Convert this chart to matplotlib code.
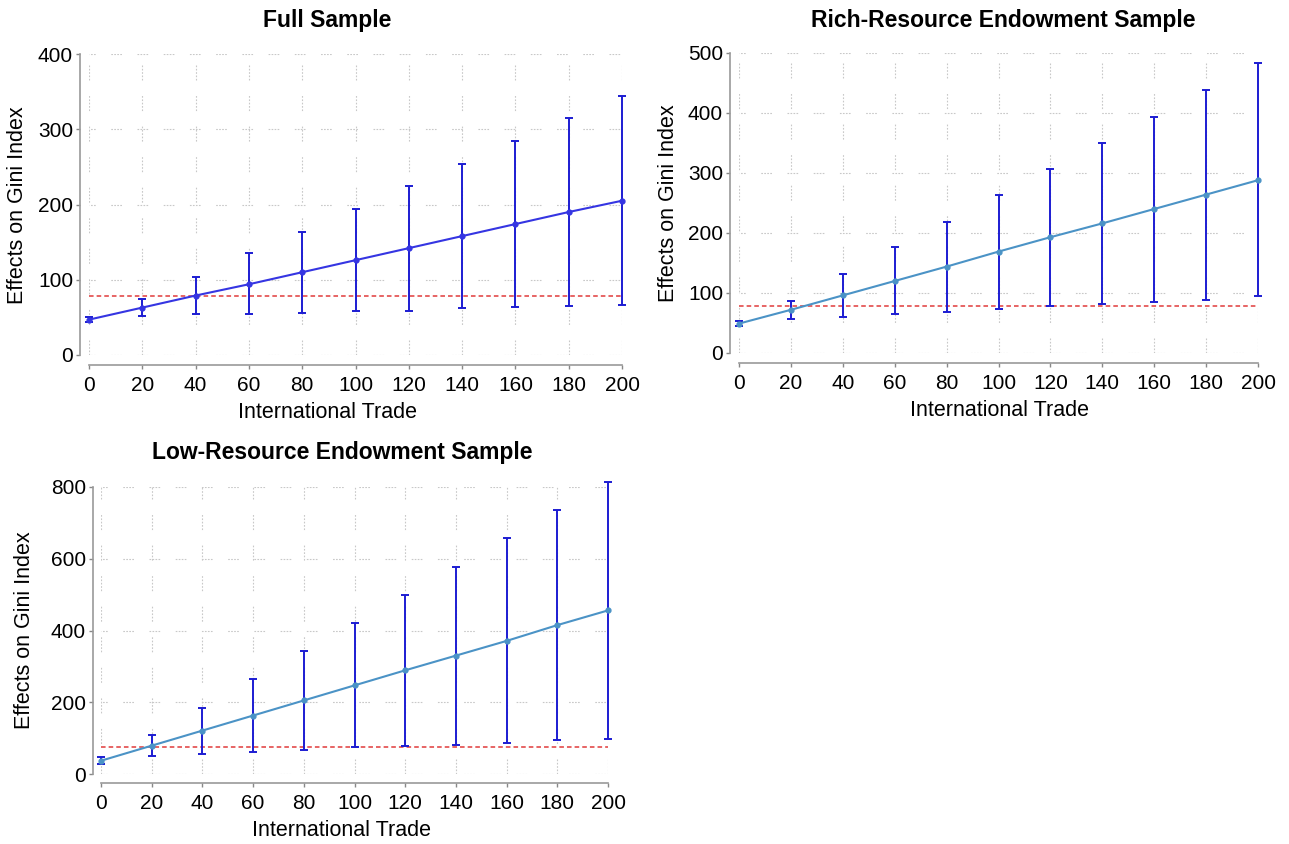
import numpy as np
import matplotlib
matplotlib.use("Agg")
import matplotlib.pyplot as plt

plt.rcParams["font.family"] = ["Liberation Sans", "DejaVu Sans"]

TRADE = [0, 20, 40, 60, 80, 100, 120, 140, 160, 180, 200]

# Full sample
FULL_MEAN = [47, 63, 79, 94, 110, 126, 142, 158, 174, 190, 205]
FULL_LO = [44, 52, 54, 55, 56, 58, 59, 62, 64, 65, 66]
FULL_HI = [50, 74, 104, 135, 164, 194, 225, 254, 285, 315, 344]
FULL_REF = 78

# Rich-resource endowment sample
RICH_MEAN = [49, 72, 96, 120, 144, 169, 193, 216, 240, 264, 288]
RICH_LO = [45, 56, 60, 65, 69, 73, 78, 82, 85, 89, 95]
RICH_HI = [53, 87, 132, 176, 219, 263, 307, 350, 394, 439, 483]
RICH_REF = 78

# Low-resource endowment sample
LOW_MEAN = [37, 79, 121, 163, 205, 247, 289, 330, 371, 415, 456]
LOW_LO = [28, 49, 55, 60, 67, 74, 77, 82, 87, 94, 97]
LOW_HI = [46, 108, 185, 265, 343, 420, 500, 577, 657, 737, 813]
LOW_REF = 76

W, H = 1289, 844
ERR_C = "#1c1cd2"

PANELS = [
    # title, mean, lo, hi, ref, ymax, line colour, axes box px (x0, x200, y0, ytop), spine offsets px,
    # title centre px, xlabel px, ylabel px
    ("Full Sample", FULL_MEAN, FULL_LO, FULL_HI, FULL_REF, 400, "#3535e2",
     (89, 622, 355, 54), (9, 10), (327, 20), (327, 412), (18, 205)),
    ("Rich-Resource Endowment Sample", RICH_MEAN, RICH_LO, RICH_HI, RICH_REF, 500, "#4b93c6",
     (739, 1258, 353, 53), (9, 10), (1003, 20), (1000, 411), (668, 203)),
    ("Low-Resource Endowment Sample", LOW_MEAN, LOW_LO, LOW_HI, LOW_REF, 800, "#4b93c6",
     (101, 608, 774, 487), (8, 9), (342, 453), (342, 831), (25, 630)),
]

fig = plt.figure(figsize=(W / 100, H / 100), dpi=100)

for (title, mean, lo, hi, ref, ymax, lc, box, offs, tpos, xlpos, ylpos) in PANELS:
    x0, x1, y0, y1 = box
    ax = fig.add_axes([x0 / W, 1 - y0 / H, (x1 - x0) / W, (y0 - y1) / H])
    ax.set_xlim(0, 200)
    ax.set_ylim(0, ymax)
    mean = np.array(mean)
    yerr = [mean - np.array(lo), np.array(hi) - mean]

    # broken light-grey grid
    ystep = 100 if ymax <= 500 else 200
    for gx in TRADE:
        ax.axvline(gx, color="#c8c8c8", lw=0.8, ls=(0, (1.5, 1.5, 1.5, 1.5, 1.5, 1.5, 1.5, 1.5, 1.5, 14)),
                   zorder=0)
    for gy in np.arange(0, ymax + 1, ystep):
        ax.axhline(gy, color="#c8c8c8", lw=0.8, ls=(4, (1.5, 1.2, 1.5, 1.2, 1.5, 1.2, 1.5, 14)), zorder=0)

    ax.axhline(ref, color="#e03a3a", lw=1.1, ls=(0, (3, 2)), zorder=1)
    ax.errorbar(TRADE, mean, yerr=yerr, fmt="none", ecolor=ERR_C, elinewidth=1.4,
                capsize=3, capthick=1.4, zorder=2, clip_on=False)
    ax.plot(TRADE, mean, color=lc, lw=1.5, marker="o", ms=3.5, zorder=3, clip_on=False)

    ax.set_xticks(TRADE)
    ax.set_yticks(np.arange(0, ymax + 1, ystep))
    ax.tick_params(labelsize=15, color="#888888", length=3, width=1)
    ax.tick_params(axis="x", pad=5)
    ax.tick_params(axis="y", pad=2)
    for s in ("top", "right"):
        ax.spines[s].set_visible(False)
    ax.spines["left"].set_position(("outward", offs[0] * 0.72))
    ax.spines["bottom"].set_position(("outward", offs[1] * 0.72))
    for s in ("left", "bottom"):
        ax.spines[s].set_color("#999999")
        ax.spines[s].set_linewidth(1.2)

    fig.text(tpos[0] / W, 1 - tpos[1] / H, title, ha="center", va="center",
             fontsize=16.5, fontweight="bold")
    fig.text(xlpos[0] / W, 1 - xlpos[1] / H, "International Trade", ha="center", va="center",
             fontsize=15.5)
    fig.text(ylpos[0] / W, 1 - ylpos[1] / H, "Effects on Gini Index", ha="center", va="center",
             fontsize=15.5, rotation=90)

fig.savefig("out.png", dpi=100)
